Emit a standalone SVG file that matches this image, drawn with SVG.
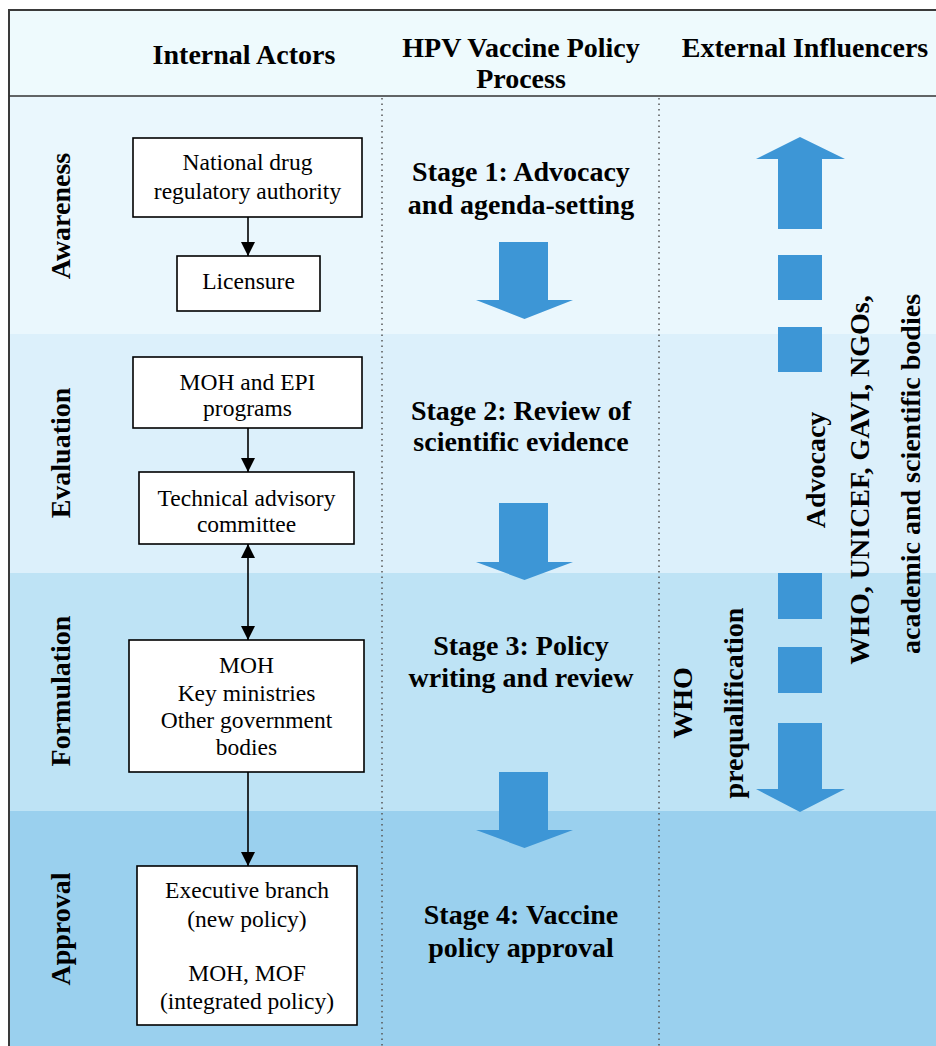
<svg xmlns="http://www.w3.org/2000/svg" width="936" height="1046" viewBox="0 0 936 1046">
  <style>
    .hdr { font-family: "Liberation Serif", "Times New Roman", serif; font-weight: bold; font-size: 28px; fill: #000; text-anchor: middle; }
    .phase { font-family: "Liberation Serif", "Times New Roman", serif; font-weight: bold; font-size: 28px; fill: #000; text-anchor: middle; }
    .stage { font-family: "Liberation Serif", "Times New Roman", serif; font-weight: bold; font-size: 28px; fill: #000; text-anchor: middle; }
    .side { font-family: "Liberation Serif", "Times New Roman", serif; font-weight: bold; font-size: 28px; fill: #000; text-anchor: middle; }
    .box rect { fill: #ffffff; stroke: #000; stroke-width: 1.6; }
    .box text { font-family: "Liberation Serif", "Times New Roman", serif; font-size: 23.5px; fill: #000; text-anchor: middle; }
    .conn line { stroke: #000; stroke-width: 1.6; }
    .flow { fill: #3d96d6; }
    .divider { stroke: #555; stroke-width: 1.5; stroke-dasharray: 1.5 4; }
  </style>
  <defs>
    <marker id="tip" viewBox="0 0 10 10" refX="10" refY="5" markerUnits="userSpaceOnUse" markerWidth="14" markerHeight="15" orient="auto-start-reverse">
      <path d="M0,0 L10,5 L0,10 z" fill="#000"/>
    </marker>
  </defs>

  <!-- page -->
  <rect x="0" y="0" width="936" height="1046" fill="#ffffff"/>

  <!-- header and phase bands -->
  <rect x="9" y="10" width="940" height="86" fill="#eefafd"/>
  <rect x="9" y="96" width="940" height="238" fill="#eaf7fd"/>
  <rect x="9" y="334" width="940" height="239" fill="#dcf0fb"/>
  <rect x="9" y="573" width="940" height="238" fill="#bee3f5"/>
  <rect x="9" y="811" width="940" height="240" fill="#9ad0ee"/>

  <!-- frame -->
  <rect x="9" y="10" width="940" height="1050" fill="none" stroke="#3a3a3a" stroke-width="2"/>
  <line x1="9" y1="96" x2="936" y2="96" stroke="#333" stroke-width="1.6"/>

  <!-- column dividers -->
  <line class="divider" x1="382" y1="98" x2="382" y2="1046"/>
  <line class="divider" x1="659" y1="98" x2="659" y2="1046"/>

  <!-- column headings -->
  <g id="headings">
    <text class="hdr" x="244" y="64">Internal Actors</text>
    <text class="hdr" x="521" y="57">HPV Vaccine Policy</text>
    <text class="hdr" x="521" y="88">Process</text>
    <text class="hdr" x="805" y="57">External Influencers</text>
  </g>

  <!-- phase labels -->
  <g id="phases">
    <text class="phase" transform="translate(70,216) rotate(-90)">Awareness</text>
    <text class="phase" transform="translate(70,453) rotate(-90)">Evaluation</text>
    <text class="phase" transform="translate(70,691) rotate(-90)">Formulation</text>
    <text class="phase" transform="translate(70,929) rotate(-90)">Approval</text>
  </g>

  <!-- internal actors -->
  <g id="ndra" class="box">
    <rect x="133" y="138" width="229" height="79"/>
    <text x="247.5" y="170">National drug</text>
    <text x="247.5" y="199">regulatory authority</text>
  </g>
  <g id="licensure" class="box">
    <rect x="177" y="256" width="143" height="55"/>
    <text x="248.5" y="289">Licensure</text>
  </g>
  <g id="moh-epi" class="box">
    <rect x="133" y="357" width="229" height="71"/>
    <text x="247.5" y="390">MOH and EPI</text>
    <text x="247.5" y="416">programs</text>
  </g>
  <g id="tac" class="box">
    <rect x="139" y="472" width="215" height="72"/>
    <text x="246.5" y="506">Technical advisory</text>
    <text x="246.5" y="532">committee</text>
  </g>
  <g id="ministries" class="box">
    <rect x="129" y="640" width="235" height="132"/>
    <text x="246.5" y="673">MOH</text>
    <text x="246.5" y="701">Key ministries</text>
    <text x="246.5" y="728">Other government</text>
    <text x="246.5" y="755">bodies</text>
  </g>
  <g id="executive" class="box">
    <rect x="137" y="866" width="220" height="159"/>
    <text x="247" y="898">Executive branch</text>
    <text x="247" y="927">(new policy)</text>
    <text x="247" y="981">MOH, MOF</text>
    <text x="247" y="1009">(integrated policy)</text>
  </g>

  <!-- connectors between actors -->
  <g id="connectors" class="conn">
    <line x1="248" y1="217" x2="248" y2="256" marker-end="url(#tip)"/>
    <line x1="248" y1="428" x2="248" y2="472" marker-end="url(#tip)"/>
    <line x1="248" y1="544" x2="248" y2="640" marker-start="url(#tip)" marker-end="url(#tip)"/>
    <line x1="248" y1="772" x2="248" y2="866" marker-end="url(#tip)"/>
  </g>

  <!-- policy process stages -->
  <g id="stage1">
    <text class="stage" x="521" y="181">Stage 1: Advocacy</text>
    <text class="stage" x="521" y="214">and agenda-setting</text>
  </g>
  <g id="stage2">
    <text class="stage" x="521" y="420">Stage 2: Review of</text>
    <text class="stage" x="521" y="451">scientific evidence</text>
  </g>
  <g id="stage3">
    <text class="stage" x="521" y="655">Stage 3: Policy</text>
    <text class="stage" x="521" y="687">writing and review</text>
  </g>
  <g id="stage4">
    <text class="stage" x="521" y="924">Stage 4: Vaccine</text>
    <text class="stage" x="521" y="957">policy approval</text>
  </g>

  <!-- stage-to-stage block arrows -->
  <g id="stage-arrows">
    <polygon class="flow" points="499,242 548,242 548,300 573,300 524.5,319 476,300 499,300"/>
    <polygon class="flow" points="499,503 548,503 548,562 573,562 524.5,580 476,562 499,562"/>
    <polygon class="flow" points="499,772 548,772 548,830 573,830 524.5,848 476,830 499,830"/>
  </g>

  <!-- external influence: dashed two-way arrow -->
  <g id="influence-arrow">
    <polygon class="flow" points="800,137 845,159 822,159 822,229 778,229 778,159 756,159"/>
    <rect class="flow" x="778" y="255" width="44" height="45"/>
    <rect class="flow" x="778" y="327" width="44" height="45"/>
    <rect class="flow" x="778" y="573" width="44" height="46"/>
    <rect class="flow" x="778" y="647" width="44" height="46"/>
    <polygon class="flow" points="778,723 822,723 822,789 845,789 800,812 756,789 778,789"/>
  </g>

  <!-- external influencer labels -->
  <g id="advocacy">
    <text class="side" transform="translate(825,470) rotate(-90)">Advocacy</text>
  </g>
  <g id="agencies">
    <text class="side" transform="translate(869,480) rotate(-90)">WHO, UNICEF, GAVI, NGOs,</text>
    <text class="side" transform="translate(920,474) rotate(-90)">academic and scientific bodies</text>
  </g>
  <g id="prequalification">
    <text class="side" transform="translate(692,703) rotate(-90)">WHO</text>
    <text class="side" transform="translate(743,703) rotate(-90)">prequalification</text>
  </g>
</svg>
